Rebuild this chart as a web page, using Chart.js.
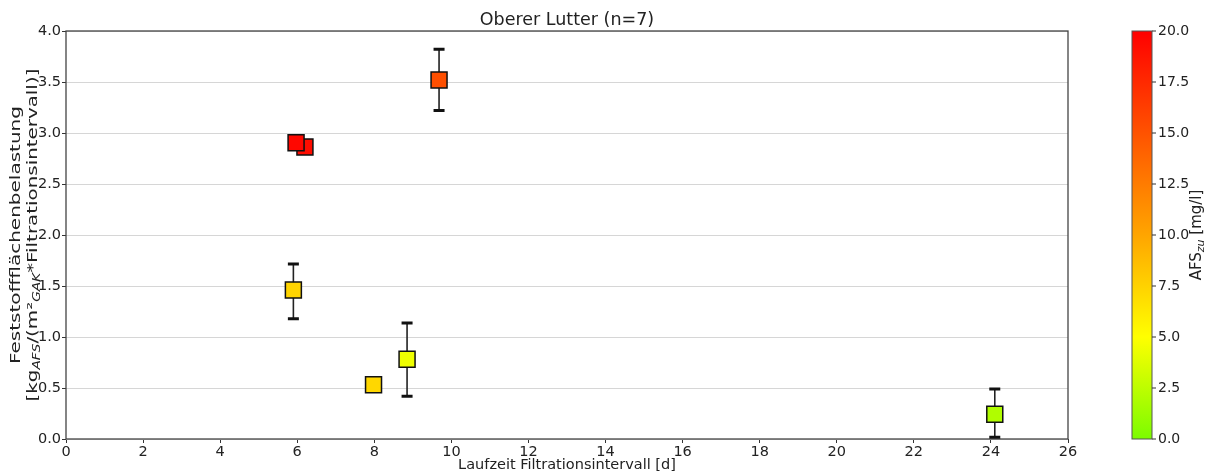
<!DOCTYPE html>
<html><head><meta charset="utf-8">
<script src="https://cdn.jsdelivr.net/npm/chart.js@4.4.1/dist/chart.umd.min.js"></script>
<style>html,body{margin:0;padding:0;background:#fff}canvas{display:block}</style>
</head><body>
<canvas id="c" width="1214" height="474"></canvas>
<script>
// ---- data ----
const chartTitle = 'Oberer Lutter (n=7)';
const xAxisLabel = 'Laufzeit Filtrationsintervall [d]';
const runtimeDays = [5.90, 6.20, 5.97, 9.68, 7.98, 8.85, 24.10];
const areaLoad    = [1.46, 2.863, 2.905, 3.52, 0.532, 0.781, 0.242];
const errLow      = [1.18, null, null, 3.22, null, 0.419, 0.017];
const errHigh     = [1.716, null, null, 3.82, null, 1.137, 0.49];
const afsInflow   = [7.4, 19.2, 19.6, 15.2, 7.2, 4.4, 2.0];
const xTicks = [0, 2, 4, 6, 8, 10, 12, 14, 16, 18, 20, 22, 24, 26];
const yTicks = [0.0, 0.5, 1.0, 1.5, 2.0, 2.5, 3.0, 3.5, 4.0];
const cbTicks = [0.0, 2.5, 5.0, 7.5, 10.0, 12.5, 15.0, 17.5, 20.0];
const cmapStops = [[0, [124, 252, 0]], [5, [255, 255, 0]], [10, [255, 165, 0]], [20, [255, 0, 0]]];

function cmap(v) {
  for (let i = 0; i < cmapStops.length - 1; i++) {
    const [a, ca] = cmapStops[i], [b, cb] = cmapStops[i + 1];
    if (v <= b || i === cmapStops.length - 2) {
      const t = Math.max(0, Math.min(1, (v - a) / (b - a)));
      const c = ca.map((k, j) => Math.round(k + (cb[j] - k) * t));
      return `rgb(${c[0]},${c[1]},${c[2]})`;
    }
  }
}

const FONT = 'DejaVu Sans';
const TXT = '#222';

const decorPlugin = {
  id: 'decor',
  beforeDatasetsDraw(chart) {
    const { ctx, chartArea: ca, scales: { x, y } } = chart;
    ctx.save();
    ctx.strokeStyle = '#444'; ctx.lineWidth = 1.3;
    ctx.strokeRect(ca.left, ca.top, ca.right - ca.left, ca.bottom - ca.top);
    for (let i = 0; i < runtimeDays.length; i++) {
      if (errLow[i] == null) continue;
      const px = x.getPixelForValue(runtimeDays[i]);
      const yl = y.getPixelForValue(errLow[i]);
      const yh = y.getPixelForValue(errHigh[i]);
      ctx.strokeStyle = '#222'; ctx.lineWidth = 1.6;
      ctx.beginPath(); ctx.moveTo(px, yl); ctx.lineTo(px, yh); ctx.stroke();
      ctx.strokeStyle = '#111'; ctx.lineWidth = 3;
      ctx.beginPath();
      ctx.moveTo(px - 5.5, yl); ctx.lineTo(px + 5.5, yl);
      ctx.moveTo(px - 5.5, yh); ctx.lineTo(px + 5.5, yh);
      ctx.stroke();
    }
    ctx.restore();
  },
  afterDraw(chart) {
    const { ctx, chartArea: ca, scales: { cb } } = chart;
    ctx.save();
    ctx.fillStyle = TXT;
    ctx.font = `17.5px "${FONT}"`;
    ctx.textAlign = 'center'; ctx.textBaseline = 'middle';
    ctx.fillText(chartTitle, (ca.left + ca.right) / 2, 20);
    ctx.font = `14.5px "${FONT}"`;
    ctx.fillText(xAxisLabel, (ca.left + ca.right) / 2, 465);
    const cy = (ca.top + ca.bottom) / 2;
    drawRich(ctx, 16, cy, [['Feststoffflächenbelastung', 0]], 14.5, 1.38);
    drawRich(ctx, 33, cy, [['[kg', 0], ['AFS', 1], ['/(m²', 0], ['GAK', 1], ['*Filtrationsintervall)]', 0]], 14.5, 1.37);
    const top = cb.getPixelForValue(20), bot = cb.getPixelForValue(0);
    const bx = ca.right + 64, bw = 20;
    const g = ctx.createLinearGradient(0, bot, 0, top);
    cmapStops.forEach(([v, c]) => g.addColorStop(v / 20, `rgb(${c[0]},${c[1]},${c[2]})`));
    ctx.fillStyle = g;
    ctx.fillRect(bx, top, bw, bot - top);
    ctx.strokeStyle = '#555'; ctx.lineWidth = 1;
    ctx.strokeRect(bx, top, bw, bot - top);
    ctx.fillStyle = TXT; ctx.strokeStyle = '#333';
    ctx.font = `14px "${FONT}"`; ctx.textAlign = 'left'; ctx.textBaseline = 'middle';
    cbTicks.forEach(v => {
      const py = cb.getPixelForValue(v);
      ctx.beginPath(); ctx.moveTo(bx + bw, py); ctx.lineTo(bx + bw + 4, py); ctx.stroke();
      ctx.fillText(v.toFixed(1), bx + bw + 6, py);
    });
    drawRich(ctx, ca.right + 129, cy, [['AFS', 0], ['zu', 1], [' [mg/l]', 0]], 15, 1);
    ctx.restore();
  }
};

function drawRich(ctx, cx, cy, parts, size, stretch) {
  ctx.save();
  ctx.translate(cx, cy); ctx.rotate(-Math.PI / 2); ctx.scale(stretch, 1);
  ctx.textAlign = 'left'; ctx.textBaseline = 'middle'; ctx.fillStyle = TXT;
  const fonts = [`${size}px "${FONT}"`, `italic ${Math.round(size * 0.7)}px "${FONT}"`];
  let total = 0;
  parts.forEach(([t, s]) => { ctx.font = fonts[s]; total += ctx.measureText(t).width; });
  let px = -total / 2;
  parts.forEach(([t, s]) => {
    ctx.font = fonts[s];
    ctx.fillText(t, px, s ? size * 0.28 : 0);
    px += ctx.measureText(t).width;
  });
  ctx.restore();
}

new Chart(document.getElementById('c'), {
  type: 'scatter',
  data: {
    datasets: [{
      data: runtimeDays.map((d, i) => ({ x: d, y: areaLoad[i] })),
      backgroundColor: afsInflow.map(cmap),
      borderColor: '#111',
      borderWidth: 1.5,
      pointStyle: 'rect',
      pointRadius: 11.3,
      pointHoverRadius: 11.3
    }]
  },
  options: {
    responsive: false,
    devicePixelRatio: 1,
    animation: false,
    events: [],
    layout: { padding: { top: 31, left: 0, right: 0, bottom: 0 } },
    plugins: { legend: { display: false }, tooltip: { enabled: false }, title: { display: false } },
    scales: {
      x: {
        type: 'linear', min: 0, max: 26,
        afterBuildTicks: s => { s.ticks = xTicks.map(v => ({ value: v })); },
        afterFit: s => { s.height = 35; },
        grid: { drawOnChartArea: false, drawTicks: true, tickLength: 4, tickColor: '#333', color: '#333' },
        border: { display: false },
        ticks: { font: { family: FONT, size: 14.5 }, color: TXT, padding: 1, maxRotation: 0, callback: v => String(v) }
      },
      y: {
        type: 'linear', min: 0, max: 4,
        afterBuildTicks: s => { s.ticks = yTicks.map(v => ({ value: v })); },
        afterFit: s => { s.width = 66; },
        grid: { color: '#d6d6d6', lineWidth: 1, drawTicks: true, tickLength: 4, tickColor: '#333' },
        border: { display: false },
        ticks: { font: { family: FONT, size: 14.5 }, color: TXT, padding: 1, callback: v => Number(v).toFixed(1) }
      },
      cb: {
        type: 'linear', position: 'right', min: 0, max: 20,
        afterFit: s => { s.width = 146; },
        grid: { display: false, drawTicks: false },
        border: { display: false },
        ticks: { display: false }
      }
    }
  },
  plugins: [decorPlugin]
});
</script>
</body></html>
